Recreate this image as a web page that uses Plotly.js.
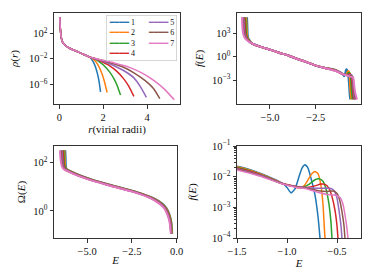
<!DOCTYPE html>
<html><head><meta charset="utf-8">
<script src="https://cdn.plot.ly/plotly-3.0.1.min.js"></script>
<style>html,body{margin:0;padding:0;background:#fff}#chart{width:374px;height:280px}</style>
</head><body><div id="chart"></div>
<script>
// ---------- data ----------
const models = ['1','2','3','4','5','6','7'];
const colors = ['#1f77b4','#ff7f0e','#2ca02c','#d62728','#9467bd','#8c564b','#e377c2'];

// rho(r): shared inner profile (log10 values) + per-model truncated tails
const rCore      = [0.02,0.03,0.045,0.07,0.1,0.16,0.26,0.4,0.64,0.9,1.1,1.3,1.4];
const logRhoCore = [4.55,3.7,2.9,1.9,1.15,0.55,0.16,-0.2,-0.62,-1.0,-1.3,-1.6,-1.77];
const rTails = [
  [1.45,1.55,1.65,1.75,1.82,1.88],
  [1.5,1.65,1.8,1.95,2.05,2.18],
  [1.6,1.8,2.0,2.3,2.5,2.65,2.79],
  [1.7,2.0,2.3,2.6,2.9,3.15,3.4],
  [1.8,2.1,2.5,3.0,3.4,3.7,3.97],
  [1.9,2.3,2.9,3.4,3.9,4.3,4.58],
  [2.0,2.5,3.2,3.8,4.3,4.8,5.24]
];
const logRhoTails = [
  [-1.95,-2.5,-3.3,-4.5,-5.7,-7.2],
  [-1.92,-2.4,-3.2,-4.4,-5.5,-7.3],
  [-2.0,-2.4,-2.95,-4.1,-5.2,-6.3,-7.7],
  [-2.08,-2.55,-3.1,-3.9,-5.0,-6.2,-7.9],
  [-2.15,-2.5,-3.1,-4.0,-5.0,-6.4,-8.05],
  [-2.2,-2.6,-3.3,-4.2,-5.4,-6.7,-8.25],
  [-2.25,-2.65,-3.35,-4.3,-5.4,-6.8,-8.45]
];

// f(E): per-model head, shared body, per-model tail (log10 values)
const fHeadE = [
  [-6.25,-6.23,-6.22,-6.18,-6.08],
  [-6.30,-6.27,-6.26,-6.21,-6.10],
  [-6.35,-6.32,-6.30,-6.24,-6.12],
  [-6.40,-6.37,-6.34,-6.27,-6.14],
  [-6.45,-6.42,-6.38,-6.30,-6.16],
  [-6.50,-6.47,-6.42,-6.33,-6.18],
  [-6.52,-6.50,-6.46,-6.36,-6.20]
];
const fHeadLog = [5.05,3.6,2.9,2.35,2.0];
const fCoreE   = [-6.0,-5.5,-5.0,-4.5,-4.0,-3.5,-3.0,-2.5,-2.0];
const fCoreLog = [1.7,1.25,0.9,0.5,0.15,-0.3,-0.7,-1.15,-1.45];
const fTailE = [
  [-1.5,-1.25,-1.05,-1.0,-0.96,-0.92,-0.88,-0.85,-0.82,-0.79,-0.76,-0.72,-0.69,-0.67,-0.65,-0.62],
  [-1.5,-1.25,-1.05,-0.95,-0.88,-0.83,-0.78,-0.75,-0.72,-0.69,-0.66,-0.64,-0.62,-0.59,-0.56],
  [-1.5,-1.25,-1.05,-0.95,-0.85,-0.78,-0.72,-0.68,-0.64,-0.61,-0.58,-0.56,-0.55,-0.52,-0.49],
  [-1.5,-1.25,-1.05,-0.9,-0.8,-0.72,-0.66,-0.62,-0.58,-0.55,-0.52,-0.50,-0.49,-0.45,-0.42],
  [-1.5,-1.25,-1.05,-0.9,-0.8,-0.7,-0.62,-0.57,-0.53,-0.50,-0.48,-0.46,-0.45,-0.41,-0.37],
  [-1.5,-1.25,-1.05,-0.9,-0.8,-0.7,-0.6,-0.54,-0.50,-0.47,-0.45,-0.43,-0.42,-0.37,-0.32],
  [-1.5,-1.25,-1.05,-0.9,-0.8,-0.7,-0.6,-0.52,-0.47,-0.44,-0.42,-0.40,-0.39,-0.33,-0.25]
];
const fTailLog = [
  [-1.66,-1.91,-2.2,-2.35,-2.53,-2.4,-2.0,-1.72,-1.61,-1.72,-2.05,-2.6,-3.3,-4.0,-4.8,-5.5],
  [-1.68,-1.93,-2.21,-2.3,-2.37,-2.3,-2.05,-1.9,-1.83,-1.9,-2.3,-2.9,-4.0,-4.8,-5.5],
  [-1.70,-1.95,-2.22,-2.3,-2.35,-2.25,-2.1,-2.07,-2.15,-2.4,-2.9,-3.5,-4.0,-4.8,-5.5],
  [-1.72,-1.96,-2.22,-2.32,-2.35,-2.3,-2.24,-2.25,-2.38,-2.65,-3.1,-3.6,-4.0,-4.8,-5.5],
  [-1.74,-1.97,-2.22,-2.33,-2.36,-2.38,-2.38,-2.38,-2.45,-2.7,-3.1,-3.6,-4.0,-4.8,-5.5],
  [-1.76,-1.99,-2.23,-2.34,-2.38,-2.45,-2.48,-2.47,-2.55,-2.8,-3.15,-3.6,-4.0,-4.8,-5.5],
  [-1.78,-2.0,-2.23,-2.35,-2.4,-2.5,-2.58,-2.6,-2.68,-2.9,-3.25,-3.7,-4.0,-4.8,-5.5]
];

// Omega(E): shared log10 levels, per-model energies
const omegaLog = [2.52,2.2,1.9,1.75,1.55,1.33,1.09,0.81,0.53,0.30,0.11,-0.15,-0.45,-0.95];
const omegaE = [
  [-6.22,-6.20,-6.19,-6.15,-5.62,-4.84,-3.74,-2.34,-1.29,-0.79,-0.56,-0.40,-0.30,-0.25],
  [-6.27,-6.25,-6.23,-6.18,-5.65,-4.87,-3.77,-2.37,-1.32,-0.82,-0.58,-0.42,-0.31,-0.26],
  [-6.32,-6.30,-6.27,-6.21,-5.68,-4.90,-3.80,-2.40,-1.35,-0.85,-0.60,-0.44,-0.32,-0.27],
  [-6.37,-6.34,-6.31,-6.24,-5.71,-4.93,-3.83,-2.43,-1.38,-0.88,-0.62,-0.46,-0.34,-0.29],
  [-6.42,-6.39,-6.35,-6.27,-5.74,-4.96,-3.86,-2.46,-1.41,-0.91,-0.64,-0.48,-0.36,-0.30],
  [-6.47,-6.44,-6.39,-6.30,-5.77,-4.99,-3.89,-2.49,-1.44,-0.94,-0.67,-0.50,-0.38,-0.31],
  [-6.52,-6.49,-6.43,-6.33,-5.80,-5.02,-3.92,-2.52,-1.47,-0.97,-0.70,-0.52,-0.40,-0.32]
];

// ---------- traces ----------
const pw = v => Math.pow(10, v);
const traces = [];
models.forEach((m, k) => {
  const ln = {color: colors[k], width: 1.5, shape: 'spline', smoothing: 0.5};
  traces.push({type:'scatter', mode:'lines', name:m, showlegend:false, xaxis:'x', yaxis:'y',
    x: rCore.concat(rTails[k]), y: logRhoCore.concat(logRhoTails[k]).map(pw), line: ln});
  const fx = fHeadE[k].concat(fCoreE, fTailE[k]);
  const fy = fHeadLog.concat(fCoreLog, fTailLog[k]).map(pw);
  traces.push({type:'scatter', mode:'lines', name:m, showlegend:false, xaxis:'x2', yaxis:'y2',
    x: fx, y: fy, line: Object.assign({}, ln, {width: 2})});
  traces.push({type:'scatter', mode:'lines', name:m, showlegend:false, xaxis:'x3', yaxis:'y3',
    x: omegaE[k], y: omegaLog.map(pw), line: Object.assign({}, ln, {width: 2})});
  traces.push({type:'scatter', mode:'lines', name:m, showlegend:false, xaxis:'x4', yaxis:'y4',
    x: fx, y: fy, line: ln});
});

// ---------- layout ----------
const FAM = "'Liberation Serif', 'DejaVu Serif', serif";
const W = 374, H = 280;
const dx = (a, b) => [a / W, b / W];
const dy = (top, bot) => [1 - bot / H, 1 - top / H];
const sup = n => '10<sup>' + n + '</sup>';
function subs(a, b){ const o=[]; for(let e=a;e<b;e++) for(let s=2;s<=9;s++) o.push(s*Math.pow(10,e)); return o; }
const tf = {family: FAM, size: 10.5, color: '#111'};
const ttf = {family: FAM, size: 11, color: '#111'};
function ax(extra){
  return Object.assign({showline:true, mirror:true, linecolor:'#333', linewidth:1,
    ticks:'outside', ticklen:3.5, tickwidth:0.8, tickcolor:'#333',
    showgrid:false, zeroline:false, automargin:true, tickfont: tf}, extra);
}
const minorY = vals => ({tickvals: vals, ticks:'outside', ticklen:2, tickwidth:0.6, tickcolor:'#333', showgrid:false});

const layout = {
  width: W, height: H, margin:{l:0,r:0,t:0,b:0, autoexpand:false},
  paper_bgcolor:'#fff', plot_bgcolor:'#fff', showlegend:false,
  font:{family: FAM, size:10, color:'#111'},
  xaxis: ax({domain: dx(54,180), anchor:'y', range:[-0.24,5.5],
    tickvals:[0,2,4], ticktext:['0','2','4'],
    title:{text:'<i>r</i>(virial radii)', font: ttf, standoff:1}}),
  yaxis: ax({domain: dy(13,104), anchor:'x', type:'log', range:[-9.1,5.18],
    tickvals:[1e-6,1e-2,1e2], ticktext:[sup('−6'),sup('−2'),sup('2')],
    title:{text:'<i>ρ</i>(<i>r</i>)', font: ttf, standoff:8}}),
  xaxis2: ax({domain: dx(237,361), anchor:'y2', range:[-6.8,-0.03],
    tickvals:[-5,-2.5], ticktext:['−5.0','−2.5']}),
  yaxis2: ax({domain: dy(13,104), anchor:'x2', type:'log', range:[-6.08,5.6],
    tickvals:[1e-3,1,1e3], ticktext:[sup('−3'),sup('0'),sup('3')],
    title:{text:'<i>f</i>(<i>E</i>)', font: ttf, standoff:6}}),
  xaxis3: ax({domain: dx(54,177), anchor:'y3', range:[-6.85,0.02],
    tickvals:[-5,-2.5,0], ticktext:['−5.0','−2.5','0.0'],
    title:{text:'<i>E</i>', font: ttf, standoff:0}}),
  yaxis3: ax({domain: dy(146,238), anchor:'x3', type:'log', range:[-1.13,2.7],
    tickvals:[1,100], ticktext:[sup('0'),sup('2')],
    title:{text:'Ω(<i>E</i>)', font: ttf, standoff:5}}),
  xaxis4: ax({domain: dx(237,361), anchor:'y4', range:[-1.5,-0.26],
    tickvals:[-1.5,-1,-0.5], ticktext:['−1.5','−1.0','−0.5'],
    title:{text:'<i>E</i>', font: ttf, standoff:0}}),
  yaxis4: ax({domain: dy(146,238), anchor:'x4', type:'log', range:[-4,-1],
    tickvals:[1e-4,1e-3,1e-2,1e-1], ticktext:[sup('−4'),sup('−3'),sup('−2'),sup('−1')],
    minor: minorY(subs(-4,-1)),
    title:{text:'<i>f</i>(<i>E</i>)', font: ttf, standoff:13}}),
  annotations: []
};

// legend (two columns, column-major like the original)
const sw = k => '<span style="color:' + colors[k] + '">━━━━</span>\u00a0' + models[k];
const gap = '\u00a0'.repeat(7);
const legendText = [
  sw(0) + gap + sw(4),
  sw(1) + gap + sw(5),
  sw(2) + gap + sw(6),
  sw(3)
].join('<br>');
layout.annotations.push({xref:'paper', yref:'paper', x:106/W, y:1-15/H, xanchor:'left', yanchor:'top',
  showarrow:false, align:'left', text: legendText,
  font:{size:8, family:"'Liberation Serif', 'DejaVu Sans', serif", color:'#111'},
  bgcolor:'rgba(255,255,255,0.8)', bordercolor:'#cccccc', borderwidth:0.8, borderpad:2});

Plotly.newPlot('chart', traces, layout, {displayModeBar:false});
</script>
</body></html>
